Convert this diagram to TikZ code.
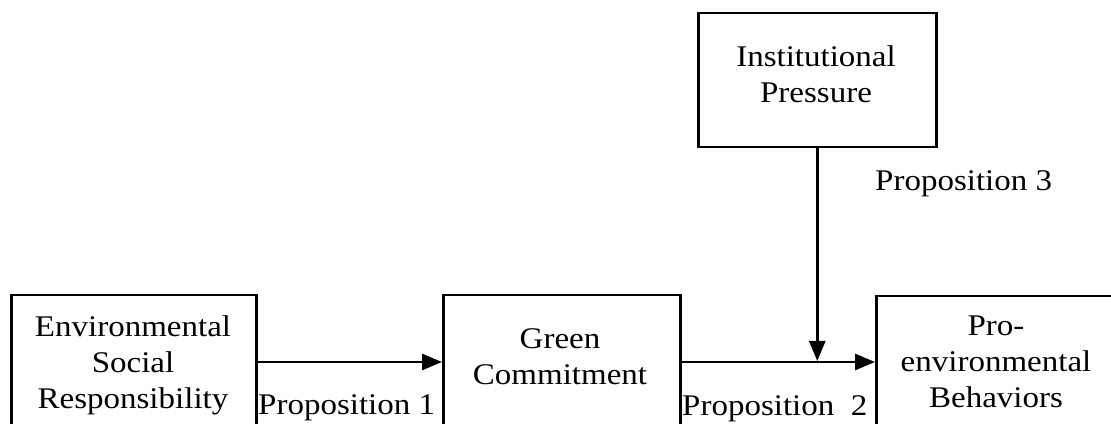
\documentclass[tikz,border=0pt]{standalone}
\usepackage{fontspec}
\setmainfont[FakeStretch=1.1]{Liberation Serif}
\usetikzlibrary{arrows.meta}
\begin{document}
\begin{tikzpicture}[x=1pt,y=1pt,
  box/.style={draw=black, line width=2.5pt, rectangle, inner sep=0pt, anchor=north west},
  lbl/.style={font=\fontsize{30}{36}\selectfont, align=center, inner sep=0pt, anchor=base},
  prop/.style={font=\fontsize{30}{36}\selectfont, inner sep=0pt, anchor=base west},
  arr/.style={line width=2.8pt, -{Triangle[length=20pt,width=16pt]}}]
\useasboundingbox (0,0) rectangle (1111,423);
\clip (0,0) rectangle (1111,423);
\node[box, minimum width=238pt, minimum height=134pt] (ip) at (697,411) {};
\node[box, minimum width=245pt, minimum height=150pt] (esr) at (10,129) {};
\node[box, minimum width=237pt, minimum height=150pt] (gc) at (442,129) {};
\node[box, minimum width=250pt, minimum height=150pt] (peb) at (875,128) {};
\node[lbl] (tip) at (816,320) {Institutional\\Pressure};
\node[lbl] (tesr) at (133,15) {Environmental\\Social\\Responsibility};
\node[lbl] (tgc) at (560,38) {Green\\Commitment};
\node[lbl] (tpeb) at (996,16) {Pro-\\environmental\\Behaviors};
\node[prop] (p1) at (258,9) {Proposition 1};
\node[prop] (p2) at (682,8) {Proposition\ \ 2};
\node[prop] (p3) at (875,232) {Proposition 3};
\coordinate (jn) at (816,62);
\draw[arr] ([yshift=-68pt]esr.north east) -- ([yshift=-68pt]gc.north west);
\draw[arr] ([yshift=-68pt]gc.north east) -- ([yshift=-67pt]peb.north west);
\draw[arr] (ip.south) -- (ip.south |- jn);
\end{tikzpicture}
\end{document}
